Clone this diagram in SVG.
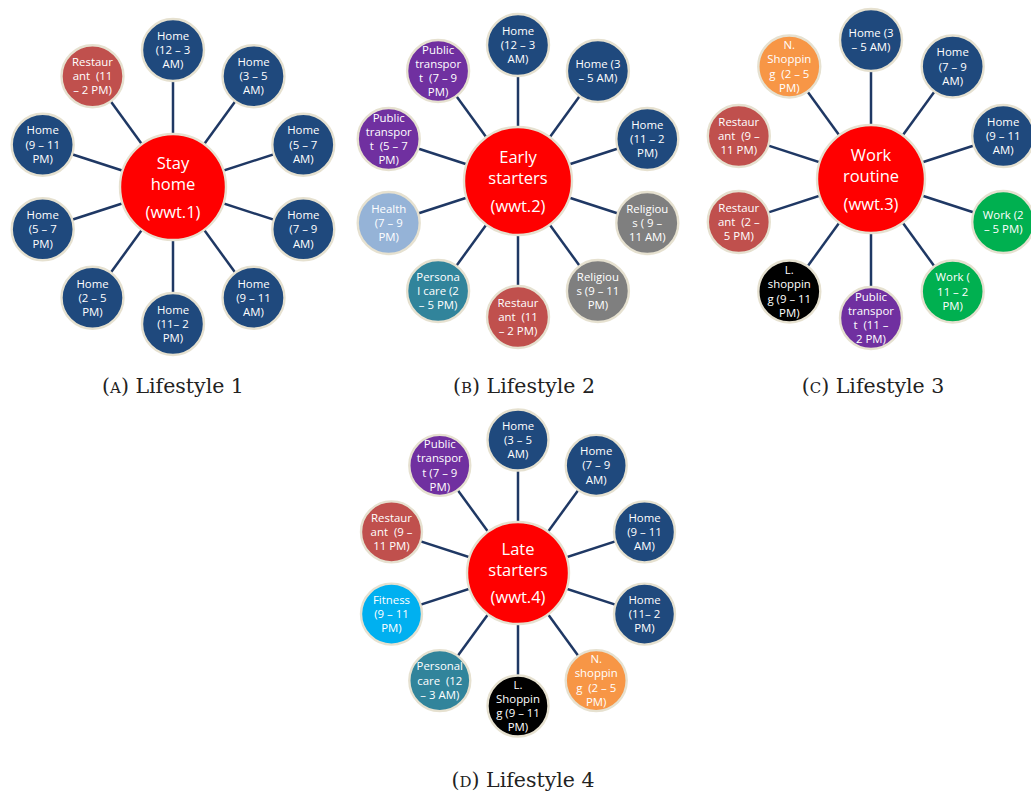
<svg xmlns="http://www.w3.org/2000/svg" width="1031" height="792" viewBox="0 0 1031 792">
<style>
.bg{fill:#ffffff}
.con line{stroke:#1F3864;stroke-width:2.5}
circle{stroke:#E6E1D0;stroke-width:2.4}
.home{fill:#1F497D}.rest{fill:#C0504D}.pt{fill:#7030A0}.hlth{fill:#95B3D7}.rel{fill:#7F7F7F}.pc{fill:#31849B}.work{fill:#00B050}.ns{fill:#F79646}.ls{fill:#000000}.fit{fill:#00B0F0}.ctr{fill:#FF0000}
.t{font-family:"Open Sans","Noto Sans",sans-serif;font-size:11.4px;fill:#ffffff;text-anchor:middle;white-space:pre}
.c{font-family:"Open Sans","Noto Sans",sans-serif;font-size:16.5px;fill:#ffffff;text-anchor:middle}
.cap{font-family:"DejaVu Serif","Liberation Serif",serif;font-size:20.5px;fill:#222222;text-anchor:middle}
.sc{font-size:15px}
</style>
<rect class="bg" x="0" y="0" width="1031" height="792"/>

<g id="connectors" class="con">
<line x1="173" y1="187" x2="173" y2="50"/><line x1="173" y1="187" x2="253.5" y2="76.2"/><line x1="173" y1="187" x2="303.3" y2="144.7"/><line x1="173" y1="187" x2="303.3" y2="229.3"/><line x1="173" y1="187" x2="253.5" y2="297.8"/><line x1="173" y1="187" x2="173" y2="324"/><line x1="173" y1="187" x2="92.5" y2="297.8"/><line x1="173" y1="187" x2="42.7" y2="229.3"/><line x1="173" y1="187" x2="42.7" y2="144.7"/><line x1="173" y1="187" x2="92.5" y2="76.2"/>
<line x1="518" y1="181" x2="518" y2="45"/><line x1="518" y1="181" x2="597.9" y2="71"/><line x1="518" y1="181" x2="647.3" y2="139"/><line x1="518" y1="181" x2="647.3" y2="223"/><line x1="518" y1="181" x2="597.9" y2="291"/><line x1="518" y1="181" x2="518" y2="317"/><line x1="518" y1="181" x2="438.1" y2="291"/><line x1="518" y1="181" x2="388.7" y2="223"/><line x1="518" y1="181" x2="388.7" y2="139"/><line x1="518" y1="181" x2="438.1" y2="71"/>
<line x1="871" y1="179" x2="871" y2="40"/><line x1="871" y1="179" x2="952.7" y2="66.5"/><line x1="871" y1="179" x2="1003.2" y2="136"/><line x1="871" y1="179" x2="1003.2" y2="222"/><line x1="871" y1="179" x2="952.7" y2="291.5"/><line x1="871" y1="179" x2="871" y2="318"/><line x1="871" y1="179" x2="789.3" y2="291.5"/><line x1="871" y1="179" x2="738.8" y2="222"/><line x1="871" y1="179" x2="738.8" y2="136"/><line x1="871" y1="179" x2="789.3" y2="66.5"/>
<line x1="518" y1="573" x2="518" y2="440"/><line x1="518" y1="573" x2="596.2" y2="465.4"/><line x1="518" y1="573" x2="644.5" y2="531.9"/><line x1="518" y1="573" x2="644.5" y2="614.1"/><line x1="518" y1="573" x2="596.2" y2="680.6"/><line x1="518" y1="573" x2="518" y2="706"/><line x1="518" y1="573" x2="439.8" y2="680.6"/><line x1="518" y1="573" x2="391.5" y2="614.1"/><line x1="518" y1="573" x2="391.5" y2="531.9"/><line x1="518" y1="573" x2="439.8" y2="465.4"/>
</g>

<g id="a-center" transform="translate(173,187)"><circle class="ctr" r="53"/><text class="c"><tspan x="0" y="-18.5">Stay</tspan><tspan x="0" y="2.5">home</tspan><tspan x="0" y="31">(wwt.1)</tspan></text></g>
<g id="a-n1" transform="translate(173,50)"><circle class="home" r="31"/><text class="t" y="-10.3"><tspan x="0">Home</tspan><tspan x="0" dy="14.3">(12 – 3</tspan><tspan x="0" dy="14.3">AM)</tspan></text></g>
<g id="a-n2" transform="translate(253.5,76.2)"><circle class="home" r="31"/><text class="t" y="-10.3"><tspan x="0">Home</tspan><tspan x="0" dy="14.3">(3 – 5</tspan><tspan x="0" dy="14.3">AM)</tspan></text></g>
<g id="a-n3" transform="translate(303.3,144.7)"><circle class="home" r="31"/><text class="t" y="-10.3"><tspan x="0">Home</tspan><tspan x="0" dy="14.3">(5 – 7</tspan><tspan x="0" dy="14.3">AM)</tspan></text></g>
<g id="a-n4" transform="translate(303.3,229.3)"><circle class="home" r="31"/><text class="t" y="-10.3"><tspan x="0">Home</tspan><tspan x="0" dy="14.3">(7 – 9</tspan><tspan x="0" dy="14.3">AM)</tspan></text></g>
<g id="a-n5" transform="translate(253.5,297.8)"><circle class="home" r="31"/><text class="t" y="-10.3"><tspan x="0">Home</tspan><tspan x="0" dy="14.3">(9 – 11</tspan><tspan x="0" dy="14.3">AM)</tspan></text></g>
<g id="a-n6" transform="translate(173,324)"><circle class="home" r="31"/><text class="t" y="-10.3"><tspan x="0">Home</tspan><tspan x="0" dy="14.3">(11– 2</tspan><tspan x="0" dy="14.3">PM)</tspan></text></g>
<g id="a-n7" transform="translate(92.5,297.8)"><circle class="home" r="31"/><text class="t" y="-10.3"><tspan x="0">Home</tspan><tspan x="0" dy="14.3">(2 – 5</tspan><tspan x="0" dy="14.3">PM)</tspan></text></g>
<g id="a-n8" transform="translate(42.7,229.3)"><circle class="home" r="31"/><text class="t" y="-10.3"><tspan x="0">Home</tspan><tspan x="0" dy="14.3">(5 – 7</tspan><tspan x="0" dy="14.3">PM)</tspan></text></g>
<g id="a-n9" transform="translate(42.7,144.7)"><circle class="home" r="31"/><text class="t" y="-10.3"><tspan x="0">Home</tspan><tspan x="0" dy="14.3">(9 – 11</tspan><tspan x="0" dy="14.3">PM)</tspan></text></g>
<g id="a-n10" transform="translate(92.5,76.2)"><circle class="rest" r="31"/><text class="t" y="-10.3"><tspan x="0">Restaur</tspan><tspan x="0" dy="14.3">ant  (11</tspan><tspan x="0" dy="14.3">– 2 PM)</tspan></text></g>

<g id="b-center" transform="translate(518,181)"><circle class="ctr" r="54"/><text class="c"><tspan x="0" y="-18.5">Early</tspan><tspan x="0" y="2.5">starters</tspan><tspan x="0" y="31">(wwt.2)</tspan></text></g>
<g id="b-n1" transform="translate(518,45)"><circle class="home" r="31"/><text class="t" y="-10.3"><tspan x="0">Home</tspan><tspan x="0" dy="14.3">(12 – 3</tspan><tspan x="0" dy="14.3">AM)</tspan></text></g>
<g id="b-n2" transform="translate(597.9,71)"><circle class="home" r="31"/><text class="t" y="-3.2"><tspan x="0">Home (3</tspan><tspan x="0" dy="14.3">– 5 AM)</tspan></text></g>
<g id="b-n3" transform="translate(647.3,139)"><circle class="home" r="31"/><text class="t" y="-10.3"><tspan x="0">Home</tspan><tspan x="0" dy="14.3">(11 – 2</tspan><tspan x="0" dy="14.3">PM)</tspan></text></g>
<g id="b-n4" transform="translate(647.3,223)"><circle class="rel" r="31"/><text class="t" y="-10.3"><tspan x="0">Religiou</tspan><tspan x="0" dy="14.3">s ( 9 –</tspan><tspan x="0" dy="14.3">11 AM)</tspan></text></g>
<g id="b-n5" transform="translate(597.9,291)"><circle class="rel" r="31"/><text class="t" y="-10.3"><tspan x="0">Religiou</tspan><tspan x="0" dy="14.3">s (9 – 11</tspan><tspan x="0" dy="14.3">PM)</tspan></text></g>
<g id="b-n6" transform="translate(518,317)"><circle class="rest" r="31"/><text class="t" y="-10.3"><tspan x="0">Restaur</tspan><tspan x="0" dy="14.3">ant  (11</tspan><tspan x="0" dy="14.3">– 2 PM)</tspan></text></g>
<g id="b-n7" transform="translate(438.1,291)"><circle class="pc" r="31"/><text class="t" y="-10.3"><tspan x="0">Persona</tspan><tspan x="0" dy="14.3">l care (2</tspan><tspan x="0" dy="14.3">– 5 PM)</tspan></text></g>
<g id="b-n8" transform="translate(388.7,223)"><circle class="hlth" r="31"/><text class="t" y="-10.3"><tspan x="0">Health</tspan><tspan x="0" dy="14.3">(7 – 9</tspan><tspan x="0" dy="14.3">PM)</tspan></text></g>
<g id="b-n9" transform="translate(388.7,139)"><circle class="pt" r="31"/><text class="t" y="-17.5"><tspan x="0">Public</tspan><tspan x="0" dy="14.3">transpor</tspan><tspan x="0" dy="14.3">t  (5 – 7</tspan><tspan x="0" dy="14.3">PM)</tspan></text></g>
<g id="b-n10" transform="translate(438.1,71)"><circle class="pt" r="31"/><text class="t" y="-17.5"><tspan x="0">Public</tspan><tspan x="0" dy="14.3">transpor</tspan><tspan x="0" dy="14.3">t  (7 – 9</tspan><tspan x="0" dy="14.3">PM)</tspan></text></g>

<g id="c-center" transform="translate(871,179)"><circle class="ctr" r="54"/><text class="c"><tspan x="0" y="-18.5">Work</tspan><tspan x="0" y="2.5">routine</tspan><tspan x="0" y="31">(wwt.3)</tspan></text></g>
<g id="c-n1" transform="translate(871,40)"><circle class="home" r="31"/><text class="t" y="-3.2"><tspan x="0">Home (3</tspan><tspan x="0" dy="14.3">– 5 AM)</tspan></text></g>
<g id="c-n2" transform="translate(952.7,66.5)"><circle class="home" r="31"/><text class="t" y="-10.3"><tspan x="0">Home</tspan><tspan x="0" dy="14.3">(7 – 9</tspan><tspan x="0" dy="14.3">AM)</tspan></text></g>
<g id="c-n3" transform="translate(1003.2,136)"><circle class="home" r="31"/><text class="t" y="-10.3"><tspan x="0">Home</tspan><tspan x="0" dy="14.3">(9 – 11</tspan><tspan x="0" dy="14.3">AM)</tspan></text></g>
<g id="c-n4" transform="translate(1003.2,222)"><circle class="work" r="31"/><text class="t" y="-3.2"><tspan x="0">Work (2</tspan><tspan x="0" dy="14.3">– 5 PM)</tspan></text></g>
<g id="c-n5" transform="translate(952.7,291.5)"><circle class="work" r="31"/><text class="t" y="-10.3"><tspan x="0">Work (</tspan><tspan x="0" dy="14.3">11 – 2</tspan><tspan x="0" dy="14.3">PM)</tspan></text></g>
<g id="c-n6" transform="translate(871,318)"><circle class="pt" r="31"/><text class="t" y="-17.5"><tspan x="0">Public</tspan><tspan x="0" dy="14.3">transpor</tspan><tspan x="0" dy="14.3">t  (11 –</tspan><tspan x="0" dy="14.3">2 PM)</tspan></text></g>
<g id="c-n7" transform="translate(789.3,291.5)"><circle class="ls" r="31"/><text class="t" y="-17.5"><tspan x="0">L.</tspan><tspan x="0" dy="14.3">shoppin</tspan><tspan x="0" dy="14.3">g (9 – 11</tspan><tspan x="0" dy="14.3">PM)</tspan></text></g>
<g id="c-n8" transform="translate(738.8,222)"><circle class="rest" r="31"/><text class="t" y="-10.3"><tspan x="0">Restaur</tspan><tspan x="0" dy="14.3">ant  (2 –</tspan><tspan x="0" dy="14.3">5 PM)</tspan></text></g>
<g id="c-n9" transform="translate(738.8,136)"><circle class="rest" r="31"/><text class="t" y="-10.3"><tspan x="0">Restaur</tspan><tspan x="0" dy="14.3">ant  (9 –</tspan><tspan x="0" dy="14.3">11 PM)</tspan></text></g>
<g id="c-n10" transform="translate(789.3,66.5)"><circle class="ns" r="31"/><text class="t" y="-17.5"><tspan x="0">N.</tspan><tspan x="0" dy="14.3">Shoppin</tspan><tspan x="0" dy="14.3">g  (2 – 5</tspan><tspan x="0" dy="14.3">PM)</tspan></text></g>

<g id="d-center" transform="translate(518,573)"><circle class="ctr" r="51"/><text class="c"><tspan x="0" y="-18.5">Late</tspan><tspan x="0" y="2.5">starters</tspan><tspan x="0" y="30">(wwt.4)</tspan></text></g>
<g id="d-n1" transform="translate(518,440)"><circle class="home" r="30.5"/><text class="t" y="-10.3"><tspan x="0">Home</tspan><tspan x="0" dy="14.3">(3 – 5</tspan><tspan x="0" dy="14.3">AM)</tspan></text></g>
<g id="d-n2" transform="translate(596.2,465.4)"><circle class="home" r="30.5"/><text class="t" y="-10.3"><tspan x="0">Home</tspan><tspan x="0" dy="14.3">(7 – 9</tspan><tspan x="0" dy="14.3">AM)</tspan></text></g>
<g id="d-n3" transform="translate(644.5,531.9)"><circle class="home" r="30.5"/><text class="t" y="-10.3"><tspan x="0">Home</tspan><tspan x="0" dy="14.3">(9 – 11</tspan><tspan x="0" dy="14.3">AM)</tspan></text></g>
<g id="d-n4" transform="translate(644.5,614.1)"><circle class="home" r="30.5"/><text class="t" y="-10.3"><tspan x="0">Home</tspan><tspan x="0" dy="14.3">(11– 2</tspan><tspan x="0" dy="14.3">PM)</tspan></text></g>
<g id="d-n5" transform="translate(596.2,680.6)"><circle class="ns" r="30.5"/><text class="t" y="-17.5"><tspan x="0">N.</tspan><tspan x="0" dy="14.3">shoppin</tspan><tspan x="0" dy="14.3">g  (2 – 5</tspan><tspan x="0" dy="14.3">PM)</tspan></text></g>
<g id="d-n6" transform="translate(518,706)"><circle class="ls" r="30.5"/><text class="t" y="-17.5"><tspan x="0">L.</tspan><tspan x="0" dy="14.3">Shoppin</tspan><tspan x="0" dy="14.3">g (9 – 11</tspan><tspan x="0" dy="14.3">PM)</tspan></text></g>
<g id="d-n7" transform="translate(439.8,680.6)"><circle class="pc" r="30.5"/><text class="t" y="-10.3"><tspan x="0">Personal</tspan><tspan x="0" dy="14.3">care  (12</tspan><tspan x="0" dy="14.3">– 3 AM)</tspan></text></g>
<g id="d-n8" transform="translate(391.5,614.1)"><circle class="fit" r="30.5"/><text class="t" y="-10.3"><tspan x="0">Fitness</tspan><tspan x="0" dy="14.3">(9 – 11</tspan><tspan x="0" dy="14.3">PM)</tspan></text></g>
<g id="d-n9" transform="translate(391.5,531.9)"><circle class="rest" r="30.5"/><text class="t" y="-10.3"><tspan x="0">Restaur</tspan><tspan x="0" dy="14.3">ant  (9 –</tspan><tspan x="0" dy="14.3">11 PM)</tspan></text></g>
<g id="d-n10" transform="translate(439.8,465.4)"><circle class="pt" r="30.5"/><text class="t" y="-17.5"><tspan x="0">Public</tspan><tspan x="0" dy="14.3">transpor</tspan><tspan x="0" dy="14.3">t (7 – 9</tspan><tspan x="0" dy="14.3">PM)</tspan></text></g>

<g id="captions">
<text class="cap" x="173" y="393">(<tspan class="sc">A</tspan>) Lifestyle 1</text>
<text class="cap" x="524" y="393">(<tspan class="sc">B</tspan>) Lifestyle 2</text>
<text class="cap" x="873" y="393">(<tspan class="sc">C</tspan>) Lifestyle 3</text>
<text class="cap" x="523" y="787">(<tspan class="sc">D</tspan>) Lifestyle 4</text>
</g>
</svg>
